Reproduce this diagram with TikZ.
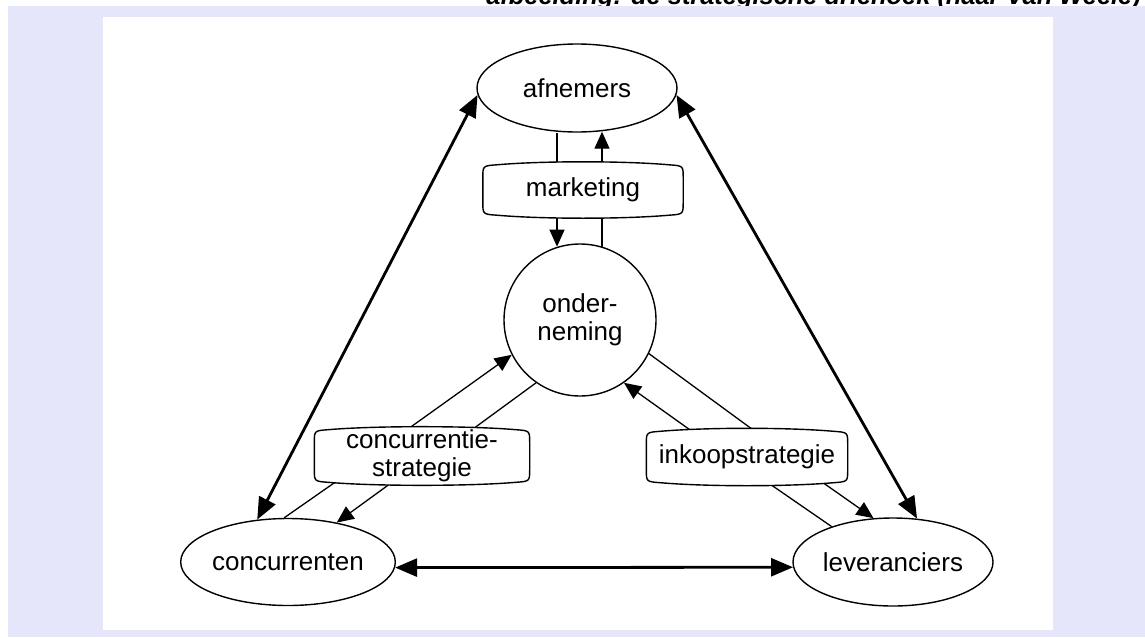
\documentclass[tikz,border=0pt]{standalone}
\usepackage{fontspec}
\setmainfont{Liberation Sans}
\usetikzlibrary{arrows.meta,calc,shapes.geometric}
\definecolor{lav}{HTML}{E6E6FA}
\newcommand{\bxo}[1]{%
 \draw[line width=1.4pt,fill=white] ([yshift=-13pt]#1.north west) .. controls ([yshift=-1pt]#1.north west) .. ([xshift=14pt]#1.north west)
  .. controls ([xshift=60pt,yshift=4pt]#1.north west) and ([xshift=-60pt,yshift=4pt]#1.north east) .. ([xshift=-14pt]#1.north east)
  .. controls ([yshift=-1pt]#1.north east) .. ([yshift=-13pt]#1.north east)
  -- ([yshift=13pt]#1.south east) .. controls ([yshift=1pt]#1.south east) .. ([xshift=-14pt]#1.south east)
  .. controls ([xshift=-60pt,yshift=-4pt]#1.south east) and ([xshift=60pt,yshift=-4pt]#1.south west) .. ([xshift=14pt]#1.south west)
  .. controls ([yshift=1pt]#1.south west) .. ([yshift=13pt]#1.south west) -- cycle;}
\begin{document}
\begin{tikzpicture}[x=1pt,y=-1pt,
  txt/.style={font=\fontsize{26}{28}\selectfont},
  ell/.style={draw,ellipse,line width=1.4pt,minimum width=200pt,minimum height=88pt,inner sep=0pt,txt},
  circ/.style={draw,circle,line width=1.4pt,minimum size=152pt,inner sep=0pt,align=center,txt},
  box/.style={rectangle,inner sep=0pt,align=center,txt},
  thin/.style={line width=1.3pt},
  thinarr/.style={line width=1.3pt,-{Triangle[length=17pt,width=15pt]}},
  thick/.style={line width=2.8pt,{Triangle[length=22pt,width=18pt]}-{Triangle[length=22pt,width=18pt]}}]
\useasboundingbox (0,0) rectangle (1145,637);
\clip (0,0) rectangle (1145,637);
% title (mostly cut off at the top)
\node[anchor=base east,inner sep=0pt,font=\fontsize{25.4}{28}\selectfont\bfseries\itshape] (title) at (1141,5) {afbeelding: de strategische driehoek (naar Van Weele)};
\fill[lav] (8,6) rectangle (1145,637);
\fill[white] (103,17) rectangle (1053,630);
% nodes
\node[ell] (af) at (577,88) {afnemers};
\node[circ] (ond) at (580,320) {onder-\\neming};
\node[box,minimum width=200pt,minimum height=50pt] (mk) at (583,190) {marketing};
\node[box,minimum width=215pt,minimum height=47pt] (cs) at (422,456) {concurrentie-\\strategie};
\node[box,minimum width=201pt,minimum height=51pt] (ik) at (747,457) {inkoopstrategie};
\node[ell,minimum height=87pt] (con) at (288,562) {concurrenten};
\node[ell] (lev) at (893,562) {leveranciers};
% thick double arrows
\draw[thick] (af.184) -- (con.126.7);
\draw[thick] (af.356) -- (lev.61.4);
\draw[thick] (con.357) -- (lev.183);
% marketing
\draw[thin] ([xshift=-26pt]mk.north) -- ([xshift=-26pt]mk.north |- af.south);
\draw[thinarr] ([xshift=19pt]mk.north) -- ([xshift=19pt,yshift=1pt]mk.north |- af.south);
\draw[thinarr] ([xshift=-26pt]mk.south) -- ([xshift=-26pt]mk.south |- ond.107.6);
\draw[thin] ([xshift=19pt]mk.south) -- ([xshift=19pt]mk.south |- ond.73);
% concurrentiestrategie
\draw[thinarr] ([xshift=-15pt]cs.north) -- (ond.207.6);
\draw[thin] ([xshift=50pt]cs.north) -- (ond.235.3);
\draw[thin] ([xshift=-87pt]cs.south) -- (con.95);
\draw[thinarr] ([xshift=-30pt]cs.south) -- (con.39);
% inkoopstrategie
\draw[thin] ([xshift=8pt]ik.north) -- (ond.334.8);
\draw[thinarr] ([xshift=-55pt]ik.north) -- (ond.305.5);
\draw[thin] ([xshift=21pt]ik.south) -- (lev.150);
\draw[thinarr] ([xshift=76pt]ik.south) -- (lev.114);
% box outlines (drawn over connector ends)
\bxo{mk}
\bxo{cs}
\bxo{ik}
\node[box] at (mk.center) {marketing};
\node[box] at (cs.center) {concurrentie-\\strategie};
\node[box] at (ik.center) {inkoopstrategie};
\end{tikzpicture}
\end{document}
